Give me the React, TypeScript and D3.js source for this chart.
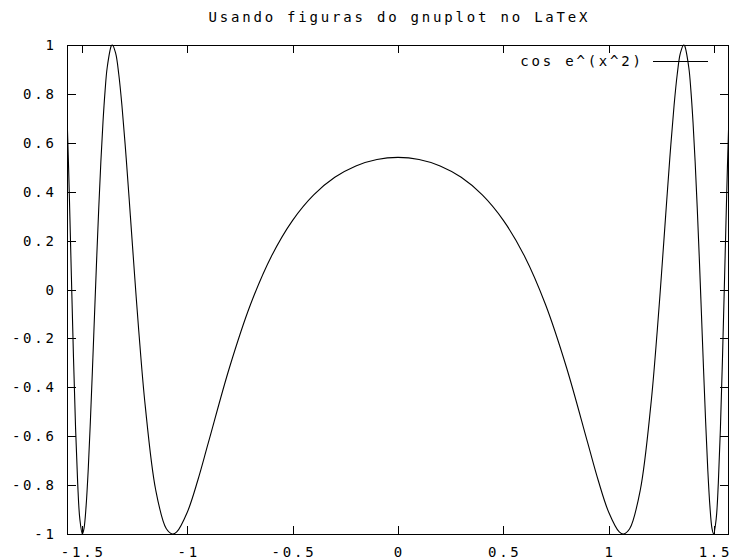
import React, { useEffect, useRef } from "react";
import * as d3 from "d3";

const xs = [
  -1.5708, -1.565, -1.56, -1.55, -1.54, -1.53, -1.52, -1.51, -1.4978, -1.49,
  -1.48, -1.47, -1.46, -1.45, -1.44, -1.43, -1.42, -1.41, -1.4, -1.39, -1.38,
  -1.36, -1.3557, -1.34, -1.325, -1.31, -1.29, -1.27, -1.25, -1.23, -1.2,
  -1.15, -1.1, -1.07, -1.05, -1.0, -0.95, -0.9, -0.8, -0.7, -0.6, -0.5, -0.4,
  -0.3, -0.2, -0.1, 0, 0.1, 0.2, 0.3, 0.4, 0.5, 0.6, 0.7, 0.8, 0.9, 0.95, 1.0,
  1.05, 1.07, 1.1, 1.15, 1.2, 1.23, 1.25, 1.27, 1.29, 1.31, 1.325, 1.34,
  1.3557, 1.36, 1.38, 1.39, 1.4, 1.41, 1.42, 1.43, 1.44, 1.45, 1.46, 1.47,
  1.48, 1.49, 1.4978, 1.51, 1.52, 1.53, 1.54, 1.55, 1.56, 1.565, 1.5708,
];
const ys = [
  0.7148, 0.5515, 0.3942, 0.0552, -0.2776, -0.57, -0.794, -0.9383, -1.0,
  -0.9767, -0.8838, -0.7353, -0.5419, -0.3262, -0.0993, 0.1253, 0.335, 0.5246,
  0.685, 0.8135, 0.908, 0.9973, 1.0, 0.9664, 0.8795, 0.7515, 0.5384, 0.3,
  0.0583, -0.1716, -0.4721, -0.819, -0.9776, -1.0, -0.9916, -0.9111, -0.7802,
  -0.6266, -0.32, -0.0615, 0.1371, 0.2829, 0.387, 0.4588, 0.5055, 0.5319,
  0.5403, 0.5319, 0.5055, 0.4588, 0.387, 0.2829, 0.1371, -0.0615, -0.32,
  -0.6266, -0.7802, -0.9111, -0.9916, -1.0, -0.9776, -0.819, -0.4721, -0.1716,
  0.0583, 0.3, 0.5384, 0.7515, 0.8795, 0.9664, 1.0, 0.9973, 0.908, 0.8135,
  0.685, 0.5246, 0.335, 0.1253, -0.0993, -0.3262, -0.5419, -0.7353, -0.8838,
  -0.9767, -1.0, -0.9383, -0.794, -0.57, -0.2776, 0.0552, 0.3942, 0.5515,
  0.7148,
];
const xTicks = [-1.5, -1, -0.5, 0, 0.5, 1, 1.5];
const yTicks = [-1, -0.8, -0.6, -0.4, -0.2, 0, 0.2, 0.4, 0.6, 0.8, 1];
const title = "Usando figuras do gnuplot no LaTeX";
const seriesName = "cos e^(x^2)";

const W = 730;
const H = 560;
const FONT = "'DejaVu Sans Mono', monospace";
const FS = 14;
const LS = 2.8;

export default function App() {
  const ref = useRef<SVGSVGElement>(null);

  useEffect(() => {
    const svg = d3.select(ref.current);
    svg.selectAll("*").remove();

    const left = 67, right = 729, top = 45, bottom = 534;
    const x = d3.scaleLinear().domain([-Math.PI / 2, Math.PI / 2]).range([left, right]);
    const y = d3.scaleLinear().domain([-1, 1]).range([bottom, top]);

    svg.append("defs").append("clipPath").attr("id", "plotclip")
      .append("rect").attr("x", left).attr("y", top - 1)
      .attr("width", right - left).attr("height", bottom - top + 2);

    const g = svg.append("g").attr("shape-rendering", "crispEdges");

    const label = (px: number, py: number, anchor: string, txt: string) =>
      svg.append("text").attr("x", px).attr("y", py)
        .attr("text-anchor", anchor).attr("dominant-baseline", "central")
        .attr("font-family", FONT).attr("font-size", FS).attr("letter-spacing", LS)
        .text(txt);

    // ticks, mirrored on all four sides
    xTicks.forEach((t) => {
      const px = Math.round(x(t)) + 0.5;
      g.append("line").attr("x1", px).attr("x2", px).attr("y1", bottom).attr("y2", bottom - 8).attr("stroke", "#000");
      g.append("line").attr("x1", px).attr("x2", px).attr("y1", top).attr("y2", top + 8).attr("stroke", "#000");
      label(x(t) + LS / 2, 551.5, "middle", String(t));
    });
    yTicks.forEach((t) => {
      const py = Math.round(y(t)) + 0.5;
      g.append("line").attr("x1", left).attr("x2", left + 9).attr("y1", py).attr("y2", py).attr("stroke", "#000");
      g.append("line").attr("x1", right).attr("x2", right - 9).attr("y1", py).attr("y2", py).attr("stroke", "#000");
      label(54 + LS, y(t), "end", String(t));
    });

    // frame
    g.append("rect").attr("x", left + 0.5).attr("y", top + 0.5)
      .attr("width", right - left - 1).attr("height", bottom - top)
      .attr("fill", "none").attr("stroke", "#000");

    // curve
    const pts: [number, number][] = xs.map((v, i) => [v, ys[i]]);
    const line = d3.line<[number, number]>()
      .x((d) => x(d[0]))
      .y((d) => y(d[1]))
      .curve(d3.curveCatmullRom.alpha(0.5));
    svg.append("path").datum(pts).attr("d", line)
      .attr("clip-path", "url(#plotclip)")
      .attr("fill", "none").attr("stroke", "#000").attr("stroke-width", 1.1);

    // legend
    label(641 + LS, 61, "end", seriesName);
    g.append("line").attr("x1", 653).attr("x2", 708).attr("y1", 61.5).attr("y2", 61.5).attr("stroke", "#000");

    // title
    label((left + right) / 2 + LS / 2, 17, "middle", title);
  }, []);

  return (
    <svg
      ref={ref}
      width={W}
      height={H}
      style={{ position: "absolute", left: 0, top: 0, background: "#fff" }}
    />
  );
}
